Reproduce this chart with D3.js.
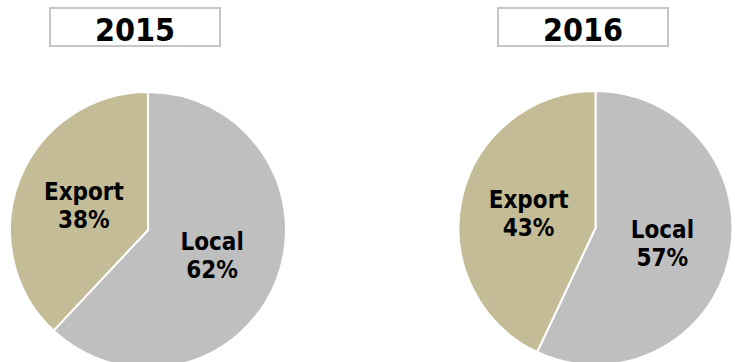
<!DOCTYPE html>
<html>
<head>
<meta charset="utf-8">
<script src="https://cdn.jsdelivr.net/npm/d3@7"></script>
<style>
  body { margin: 0; background: #fff; }
  text { font-family: 'DejaVu Sans Condensed', 'DejaVu Sans', sans-serif; font-stretch: condensed; font-weight: bold; fill: #000; }
</style>
</head>
<body>
<div id="chart"></div>
<script>
// data
var years = ['2015', '2016'];
var categories = ['Local', 'Export'];
var shares2015 = [62, 38];
var shares2016 = [57, 43];
var sharesByYear = [shares2015, shares2016];

var width = 735, height = 362;

var color = d3.scaleOrdinal()
  .domain(categories)
  .range(['#bfbfbf', '#c4bc96']);

// panel layout: pie centre, radius, title box centre
var panels = [
  { cx: 148, cy: 230, r: 138, tx: 135 },
  { cx: 595.5, cy: 228, r: 137, tx: 583 }
];

var svg = d3.select('#chart')
  .append('svg')
  .attr('width', width)
  .attr('height', height);

var pie = d3.pie().sort(null).value(function (d) { return d.value; });

years.forEach(function (year, i) {
  var p = panels[i];
  var data = categories.map(function (c, j) {
    return { name: c, value: sharesByYear[i][j] };
  });

  var arc = d3.arc().innerRadius(0).outerRadius(p.r);
  var labelArc = d3.arc().innerRadius(0).outerRadius(p.r);

  var g = svg.append('g')
    .attr('transform', 'translate(' + p.cx + ',' + p.cy + ')');

  g.selectAll('path')
    .data(pie(data))
    .enter()
    .append('path')
    .attr('d', arc)
    .attr('fill', function (d) { return color(d.data.name); })
    .attr('stroke', '#fff')
    .attr('stroke-width', 2);

  var labels = g.selectAll('.label')
    .data(pie(data))
    .enter()
    .append('text')
    .attr('class', 'label')
    .attr('text-anchor', 'middle')
    .style('font-size', '24px')
    .attr('transform', function (d) {
      var c = labelArc.centroid(d);
      return 'translate(' + c[0] + ',' + c[1] + ')';
    });

  labels.append('tspan')
    .attr('x', 0)
    .attr('y', -5)
    .text(function (d) { return d.data.name; });

  labels.append('tspan')
    .attr('x', 0)
    .attr('y', 23)
    .text(function (d) { return d.data.value + '%'; });

  // title box
  var t = svg.append('g');
  t.append('rect')
    .attr('x', p.tx - 85)
    .attr('y', 8)
    .attr('width', 170)
    .attr('height', 38)
    .attr('fill', '#fff')
    .attr('stroke', '#c6c6c6')
    .attr('stroke-width', 2);
  t.append('text')
    .attr('x', p.tx)
    .attr('y', 40.5)
    .attr('text-anchor', 'middle')
    .style('font-size', '32px')
    .text(year);
});
</script>
</body>
</html>
